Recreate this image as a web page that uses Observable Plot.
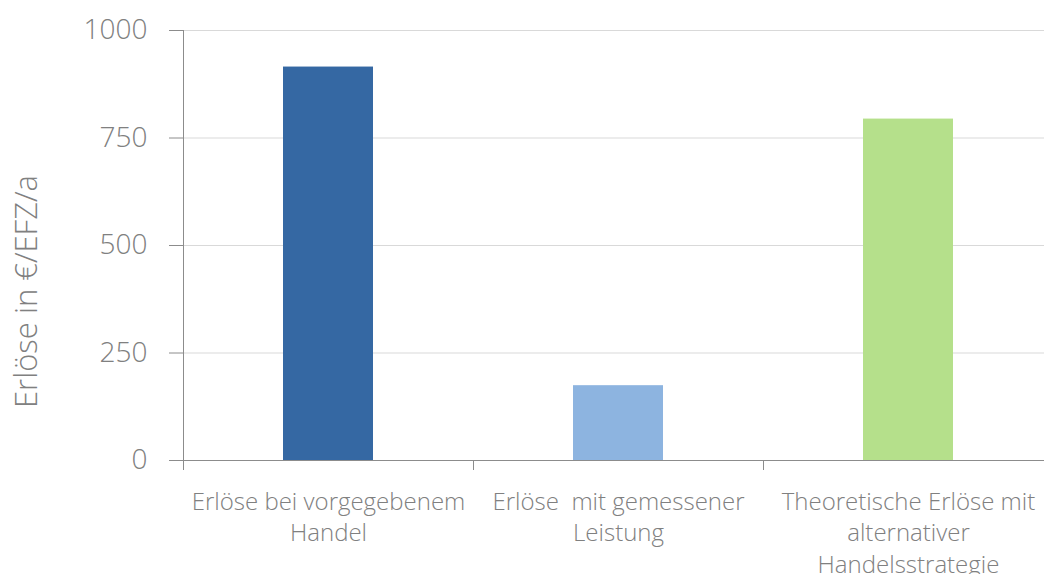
<!DOCTYPE html>
<html>
<head>
<meta charset="utf-8">
<script src="https://cdn.jsdelivr.net/npm/d3@7"></script>
<script src="https://cdn.jsdelivr.net/npm/@observablehq/plot@0.6"></script>
<style>
  html, body { margin: 0; padding: 0; background: #fff; overflow: hidden; }
  svg text { white-space: pre; }
</style>
</head>
<body>
<div id="chart"></div>
<script>
const categories = [
  "Erlöse bei vorgegebenem\nHandel",
  "Erlöse  mit gemessener\nLeistung",
  "Theoretische Erlöse mit\nalternativer\nHandelsstrategie"
];
const values = [915, 174, 794];
const barColors = ["#3568a3", "#8db4e0", "#b5e08b"];
const yTicks = [0, 250, 500, 750, 1000];
const yLabel = "Erlöse in €/EFZ/a";

const data = categories.map((c, i) => ({i, name: c, value: values[i], color: barColors[i]}));
const bounds = d3.range(categories.length + 1);

const chart = Plot.plot({
  width: 1053,
  height: 574,
  marginLeft: 183,
  marginRight: 0,
  marginTop: 30,
  marginBottom: 114,
  style: {fontFamily: "'Open Sans', sans-serif", fontWeight: 300, color: "#808080", background: "#fff", maxWidth: "none", overflow: "visible"},
  x: {type: "linear", domain: [0, categories.length], axis: null},
  y: {type: "linear", domain: [0, 1000], axis: null},
  marks: [
    Plot.gridY(yTicks, {stroke: "#d9d9d9", strokeOpacity: 1}),
    Plot.rectY(data, {x1: "i", x2: d => d.i + 1, y1: 0, y2: "value", fill: "color", insetLeft: 100, insetRight: 100}),
    Plot.axisY({ticks: yTicks, label: null, tickSize: 14, tickPadding: 22, fontSize: 28, stroke: "#8c8c8c", strokeOpacity: 1, fill: "#808080", tickFormat: d => String(d)}),
    Plot.ruleX([0], {y1: 0, y2: 1000, stroke: "#8c8c8c"}),
    Plot.ruleY([0], {stroke: "#8c8c8c"}),
    Plot.ruleX(bounds, {x: d => d, y1: 0, y2: 0, insetBottom: -10, stroke: "#8c8c8c"}),
    Plot.text(data, {x: d => d.i + 0.5, y: 0, text: "name", lineAnchor: "top", dy: 27, lineHeight: 1.31, fontSize: 24, fill: "#808080"}),
    Plot.text([yLabel], {frameAnchor: "left", textAnchor: "middle", lineAnchor: "middle", rotate: -90, dx: -156, dy: 46, fontSize: 31, fill: "#808080"})
  ]
});
document.getElementById("chart").appendChild(chart);
</script>
</body>
</html>
